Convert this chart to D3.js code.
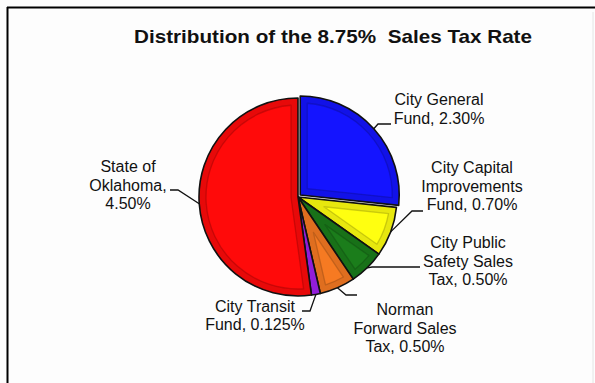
<!DOCTYPE html>
<html>
<head>
<meta charset="utf-8">
<script src="https://cdn.jsdelivr.net/npm/d3@7"></script>
<style>
  html, body { margin: 0; padding: 0; background: #fff; }
  svg { display: block; }
  text { font-family: Arial, "Liberation Sans", sans-serif; fill: #111; }
</style>
</head>
<body>
<svg id="chart" width="595" height="383"></svg>
<script>
// Sales tax shares (percentage points of the total rate)
const categories = [
  "City General Fund",
  "City Capital Improvements Fund",
  "City Public Safety Sales Tax",
  "Norman Forward Sales Tax",
  "City Transit Fund",
  "State of Oklahoma"
];
const rates = [2.30, 0.70, 0.50, 0.50, 0.125, 4.50];
const rateLabels = ["2.30%", "0.70%", "0.50%", "0.50%", "0.125%", "4.50%"];
const labelLines = [
  ["City General", "Fund, {v}"],
  ["City Capital", "Improvements", "Fund, {v}"],
  ["City Public", "Safety Sales", "Tax, {v}"],
  ["Norman", "Forward Sales", "Tax, {v}"],
  ["City Transit", "Fund, {v}"],
  ["State of", "Oklahoma,", "{v}"]
];
const colors = ["#1414ff", "#ffff10", "#1b7d1b", "#f67a22", "#a020f0", "#ff0a0a"];
const titleText = "Distribution of the 8.75%  Sales Tax Rate";

const svg = d3.select("#chart");
const W = 595, H = 383;
const cx = 298, cy = 197, R = 99;

svg.append("rect").attr("width", W).attr("height", H).attr("fill", "#fdfdfd");

// frame
svg.append("line").attr("x1", 7.5).attr("y1", 7).attr("x2", 7.5).attr("y2", H)
  .attr("stroke", "#000").attr("stroke-width", 2);
svg.append("line").attr("x1", 7).attr("y1", 7.5).attr("x2", W).attr("y2", 7.5)
  .attr("stroke", "#000").attr("stroke-width", 2);
svg.append("line").attr("x1", 593).attr("y1", 12).attr("x2", 593).attr("y2", H)
  .attr("stroke", "#e4e4e4").attr("stroke-width", 1);

svg.append("text")
  .attr("x", 333).attr("y", 43)
  .attr("text-anchor", "middle")
  .attr("font-size", 19).attr("font-weight", "bold")
  .attr("textLength", 398).attr("lengthAdjust", "spacingAndGlyphs")
  .attr("xml:space", "preserve")
  .style("white-space", "pre")
  .text(titleText);

const data = categories.map((c, i) => ({ name: c, value: rates[i], label: rateLabels[i], lines: labelLines[i], color: colors[i] }));

const pie = d3.pie().value(d => d.value).sort(null).startAngle(0).endAngle(2 * Math.PI);
const arcs = pie(data);

const arc = d3.arc().innerRadius(0).outerRadius(R);
const edgeArc = d3.arc().innerRadius(R).outerRadius(R);

// the first slice is pulled slightly out of the pie
const explode = [3, 0, 0, 0, 0, 0];

const g = svg.append("g").attr("transform", `translate(${cx},${cy})`);

// inset wedge used for the bevel look
function insetPath(a, d) {
  const s = a.startAngle, e = a.endAngle;
  const half = (e - s) / 2;
  const mid = s + half;
  const u = [Math.sin(mid), -Math.cos(mid)];
  const off = half < Math.PI / 2 ? d / Math.sin(half) : d;
  const P = [u[0] * off, u[1] * off];
  const Ri = R - d;
  function hit(ang) {
    const v = [Math.sin(ang), -Math.cos(ang)];
    const pv = P[0] * v[0] + P[1] * v[1];
    const pp = P[0] * P[0] + P[1] * P[1];
    const t = -pv + Math.sqrt(pv * pv - pp + Ri * Ri);
    return [P[0] + t * v[0], P[1] + t * v[1]];
  }
  const q1 = hit(s), q2 = hit(e);
  const a1 = Math.atan2(q1[0], -q1[1]);
  let a2 = Math.atan2(q2[0], -q2[1]);
  let sweep = a2 - a1; while (sweep < 0) sweep += 2 * Math.PI;
  const large = sweep > Math.PI ? 1 : 0;
  return `M${P[0]},${P[1]}L${q1[0]},${q1[1]}A${Ri},${Ri} 0 ${large} 1 ${q2[0]},${q2[1]}Z`;
}

const slices = g.selectAll("g.slice").data(arcs).join("g")
  .attr("class", "slice")
  .attr("transform", (a, i) => {
    const m = (a.startAngle + a.endAngle) / 2;
    return `translate(${Math.sin(m) * explode[i]},${-Math.cos(m) * explode[i]})`;
  });

slices.append("path")
  .attr("d", arc)
  .attr("fill", a => d3.color(a.data.color).darker(0.28))
  .attr("stroke", "#111").attr("stroke-width", 1.6).attr("stroke-linejoin", "round");

slices.filter(a => a.endAngle - a.startAngle > 0.2)
  .append("path")
  .attr("d", a => insetPath(a, 7))
  .attr("fill", a => a.data.color)
  .attr("stroke", a => d3.color(a.data.color).darker(1.3))
  .attr("stroke-opacity", 0.5)
  .attr("stroke-width", 1.3)
  .attr("stroke-linejoin", "round");

// leader lines and labels
const layout = [
  { elbow: [378, 124], end: [391, 124], x: 439, y: 105 },
  { elbow: [412, 211], end: [423, 211], x: 472, y: 173 },
  { elbow: [372, 267], end: [420, 267], x: 468, y: 248 },
  { elbow: [346, 295], end: [357, 295], x: 405, y: 315 },
  { elbow: [310, 311], end: [302, 311], x: 255, y: 311.5 },
  { elbow: [178, 190], end: [170, 190], x: 128, y: 172 }
];
const lineH = 18.7;

arcs.forEach((a, i) => {
  const c = edgeArc.centroid(a);
  const m = (a.startAngle + a.endAngle) / 2;
  const sx = cx + c[0] + Math.sin(m) * explode[i];
  const sy = cy + c[1] - Math.cos(m) * explode[i];
  const L = layout[i];
  svg.append("path")
    .attr("d", d3.line()([[sx, sy], L.elbow, L.end]))
    .attr("fill", "none").attr("stroke", "#111").attr("stroke-width", 1.3);
  const t = svg.append("text")
    .attr("text-anchor", "middle")
    .attr("font-size", 16);
  a.data.lines.forEach((ln, k) => {
    t.append("tspan")
      .attr("x", L.x).attr("y", L.y + k * lineH)
      .text(ln.replace("{v}", a.data.label));
  });
});
</script>
</body>
</html>
